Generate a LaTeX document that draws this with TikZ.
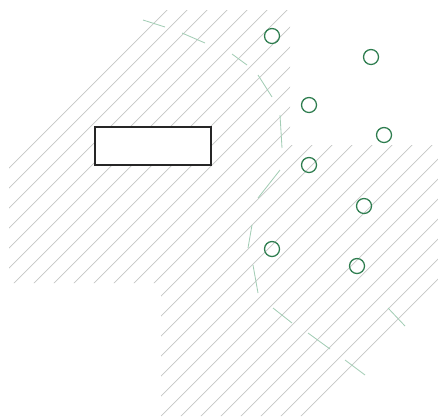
\documentclass[tikz,border=0pt]{standalone}
\usepackage{xcolor}
\usepackage{tikz}
\usetikzlibrary{positioning}
\definecolor{sitehatch}{HTML}{C4C6C4}
\definecolor{sitetick}{HTML}{A3CDB5}
\definecolor{sitegreen}{HTML}{2E7D4F}
\begin{document}
\begin{tikzpicture}[x=0.025cm, y=-0.025cm,
  hatch/.style={draw=sitehatch, line width=0.5pt},
  tickmark/.style={draw=sitetick, line width=0.6pt},
  building/.style={rectangle, draw=black!85, fill=white, line width=1.1pt, minimum width=116*0.025cm, minimum height=38*0.025cm, inner sep=0pt},
  tree/.style={circle, draw=sitegreen, line width=0.9pt, minimum size=15*0.025cm, inner sep=0pt}
]
\useasboundingbox (0,0) rectangle (438,416);

% hatched ground, both lots
\begin{scope}
  \clip (175,0) -- (729,0) -- (0,729) -- (0,175) -- cycle;
  \clip (9,10) rectangle (290,283) (161,145) rectangle (438,416);
  \foreach \c in {177,197,...,720}
    \draw[hatch] (\c,0) -- (0,\c);
\end{scope}

% tick marks
\draw[tickmark] (143,20) -- (165,27);
\draw[tickmark] (182,33) -- (205,43);
\draw[tickmark] (232,54) -- (247,65);
\draw[tickmark] (258,75) -- (272,97);
\draw[tickmark] (280,115) -- (282,148);
\draw[tickmark] (258,198) -- (280,170);
\draw[tickmark] (248,248) -- (252,225);
\draw[tickmark] (253,265) -- (258,293);
\draw[tickmark] (273,308) -- (292,323);
\draw[tickmark] (308,333) -- (330,349);
\draw[tickmark] (345,360) -- (365,375);
\draw[tickmark] (388,308) -- (405,326);

% building
\node[building] (house) at (153,146) {};

% trees
\node[tree] (t1) at (272,36) {};
\node[tree] (t2) at (371,57) {};
\node[tree] (t3) at (309,105) {};
\node[tree] (t4) at (384,135) {};
\node[tree] (t5) at (309,165) {};
\node[tree] (t6) at (364,206) {};
\node[tree] (t7) at (272,249) {};
\node[tree] (t8) at (357,266) {};
\end{tikzpicture}
\end{document}
